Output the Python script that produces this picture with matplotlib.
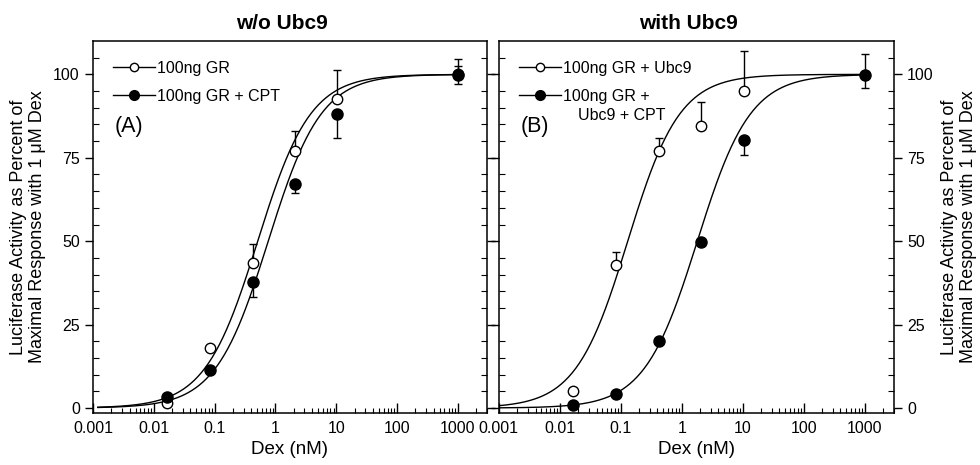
import matplotlib
matplotlib.use("Agg")
import matplotlib.pyplot as plt
import numpy as np
from matplotlib.ticker import LogLocator, FixedLocator, NullFormatter

plt.rcParams['font.family'] = ['Liberation Sans', 'DejaVu Sans']

# dose (nM)
dex = [0.0167, 0.083, 0.42, 2.08, 10.4, 1000]

# panel A: w/o Ubc9
a_open = [1.4, 18, 43.6, 77, 92.7, 100]
a_open_err = [0, 0, 5.5, 6, 8.5, 4.5]
a_fill = [3.4, 11.4, 37.8, 67, 88, 99.8]
a_fill_err = [0, 0, 4.5, 2.5, 7, 2.6]

# panel B: with Ubc9
b_open = [5.2, 42.8, 77, 84.6, 95]
b_open_err = [0, 4, 3.8, 7.2, 12]
b_fill = [0.8, 4.3, 20, 49.8, 80.3, 99.8]
b_fill_err = [0, 0, 0, 0, 4.5, 3.8]

# fitted curves: (EC50, hill slope)
fits = {
    "a_open": (0.51, 1.0),
    "a_fill": (0.76, 1.0),
    "b_open": (0.13, 1.02),
    "b_fill": (1.8, 1.0),
}

def hill(x, ec50, n):
    return 100.0 / (1.0 + (ec50 / x) ** n)

fig = plt.figure(figsize=(9.8, 4.65), dpi=100)
axA = fig.add_axes([0.0949, 0.1118, 0.402, 0.8])
axB = fig.add_axes([0.509, 0.1118, 0.403, 0.8])

ylab = "Luciferase Activity as Percent of\nMaximal Response with 1 \u03bcM Dex"

def style(ax, side):
    ax.set_xscale("log")
    ax.set_xlim(0.001, 3000)
    ax.set_ylim(-1.5, 110)
    ax.xaxis.set_major_locator(FixedLocator([0.001, 0.01, 0.1, 1, 10, 100, 1000]))
    ax.xaxis.set_minor_locator(LogLocator(base=10, subs=np.arange(2, 10), numticks=20))
    ax.xaxis.set_minor_formatter(NullFormatter())
    ax.set_xticklabels(["0.001", "0.01", "0.1", "1", "10", "100", "1000"])
    ax.set_yticks([0, 25, 50, 75, 100])
    ax.set_yticks(np.arange(5, 110, 5), minor=True)
    ax.tick_params(axis="x", which="major", direction="in", length=7, width=1,
                   labelsize=11.5, pad=6)
    ax.tick_params(axis="x", which="minor", direction="in", length=3.5, width=0.8)
    ax.tick_params(axis="y", which="major", direction="out", length=6, width=1,
                   labelsize=11.5)
    ax.tick_params(axis="y", which="minor", direction="in", length=4, width=0.8)
    if side == "left":
        ax.tick_params(axis="y", which="both", left=True, right=True,
                       labelleft=True, labelright=False)
    else:
        ax.tick_params(axis="y", which="both", left=True, right=True,
                       labelleft=False, labelright=True)
    ax.tick_params(axis="x", which="both", top=False)
    for s in ax.spines.values():
        s.set_linewidth(1.1)
    ax.set_xlabel("Dex (nM)", fontsize=13.5, labelpad=3)

style(axA, "left")
style(axB, "right")

leg_kw = dict(loc="upper left", bbox_to_anchor=(0.015, 0.985), frameon=False,
              fontsize=11.5, handlelength=2.6, handletextpad=0.15,
              labelspacing=0.8)

# panel A
xxA = np.logspace(np.log10(0.0012), 3, 300)
axA.plot(xxA, hill(xxA, *fits["a_open"]), color="black", lw=1)
axA.plot(xxA, hill(xxA, *fits["a_fill"]), color="black", lw=1)
axA.errorbar(dex, a_open, yerr=[np.zeros(len(dex)), a_open_err], fmt="none",
             ecolor="black", elinewidth=1, capsize=3)
axA.errorbar(dex, a_fill, yerr=[a_fill_err, [0, 0, 0, 0, 0, 2.6]], fmt="none",
             ecolor="black", elinewidth=1, capsize=3)
axA.plot(dex, a_open, "o", mfc="white", mec="black", ms=7.5, mew=1)
axA.plot(dex, a_fill, "o", mfc="black", mec="black", ms=8)
hA1, = axA.plot([], [], "-o", color="black", mfc="white", ms=6, lw=1)
hA2, = axA.plot([], [], "-o", color="black", mfc="black", ms=7, lw=1)
axA.legend([hA1, hA2], ["100ng GR", "100ng GR + CPT"], **leg_kw)
axA.text(0.055, 0.755, "(A)", transform=axA.transAxes, fontsize=15.5)
axA.set_title("w/o Ubc9", fontsize=15, fontweight="bold", x=0.48, pad=9)
axA.set_ylabel(ylab, fontsize=13, labelpad=5)

# panel B
xxB = np.logspace(-3, 3, 300)
axB.plot(xxB, hill(xxB, *fits["b_open"]), color="black", lw=1)
axB.plot(xxB, hill(xxB, *fits["b_fill"]), color="black", lw=1)
axB.errorbar(dex[:5], b_open, yerr=[np.zeros(5), b_open_err], fmt="none",
             ecolor="black", elinewidth=1, capsize=3)
axB.errorbar(dex, b_fill, yerr=[b_fill_err, [0, 0, 0, 0, 0, 6.4]], fmt="none",
             ecolor="black", elinewidth=1, capsize=3)
axB.plot(dex[:5], b_open, "o", mfc="white", mec="black", ms=7.5, mew=1)
axB.plot(dex, b_fill, "o", mfc="black", mec="black", ms=8)
hB1, = axB.plot([], [], "-o", color="black", mfc="white", ms=6, lw=1)
hB2, = axB.plot([], [], "-o", color="black", mfc="black", ms=7, lw=1)
axB.legend([hB1, hB2], ["100ng GR + Ubc9", "100ng GR +"], **leg_kw)
axB.text(0.20, 0.80, "Ubc9 + CPT", transform=axB.transAxes, fontsize=11.5,
         va="center")
axB.text(0.055, 0.755, "(B)", transform=axB.transAxes, fontsize=15.5)
axB.set_title("with Ubc9", fontsize=15, fontweight="bold", x=0.48, pad=9)
axB.yaxis.set_label_position("right")
axB.set_ylabel(ylab, fontsize=13, labelpad=5)

fig.savefig("out.png", dpi=100)
